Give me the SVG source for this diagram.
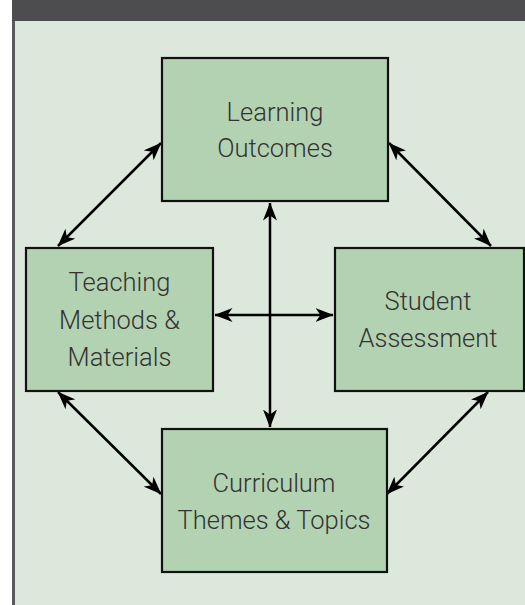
<svg xmlns="http://www.w3.org/2000/svg" width="525" height="605" viewBox="0 0 525 605">
<defs>
<style>
.bg{fill:#dde8dc}
.hdr{fill:#4d4d4f}
.node rect{fill:#b3d2b2;stroke:#111;stroke-width:2.2}
.node text{font-family:Roboto,"Liberation Sans",Arial,sans-serif;font-size:25.5px;fill:#333;text-anchor:middle;font-weight:300}
.conn line{stroke:#000;stroke-width:2.5;fill:none;marker-start:url(#ah);marker-end:url(#ah)}
</style>
<marker id="ah" viewBox="0 0 18 14" refX="17.5" refY="7" markerWidth="18" markerHeight="14" markerUnits="userSpaceOnUse" orient="auto-start-reverse">
<path d="M0,0 L18,7 L0,14 L5,7 Z" fill="#000"/>
</marker>
</defs>
<rect class="bg" x="15" y="21" width="510" height="584"/>
<rect class="hdr" x="12" y="0" width="513" height="21"/>
<rect x="12" y="21" width="3" height="584" fill="#5a5a5e"/>
<g class="conn" id="connectors">
<line x1="270" y1="203" x2="270" y2="427"/>
<line x1="215" y1="315" x2="333" y2="315"/>
<line x1="58" y1="246" x2="161" y2="143"/>
<line x1="389" y1="143" x2="491" y2="246"/>
<line x1="58" y1="392" x2="161" y2="494"/>
<line x1="488" y1="392" x2="387" y2="494"/>
</g>
<g class="node" id="learning-outcomes">
<rect x="162" y="58" width="226" height="143"/>
<text x="275" y="121">Learning</text>
<text x="275" y="157">Outcomes</text>
</g>
<g class="node" id="teaching-methods">
<rect x="26" y="248" width="187" height="143"/>
<text x="119.5" y="291">Teaching</text>
<text x="119.5" y="328.5">Methods &amp;</text>
<text x="119.5" y="365.5">Materials</text>
</g>
<g class="node" id="student-assessment">
<rect x="335" y="248" width="189" height="143"/>
<text x="428" y="310">Student</text>
<text x="428" y="346.5">Assessment</text>
</g>
<g class="node" id="curriculum">
<rect x="162" y="429" width="225" height="143"/>
<text x="274" y="492">Curriculum</text>
<text x="274" y="529">Themes &amp; Topics</text>
</g>
</svg>
